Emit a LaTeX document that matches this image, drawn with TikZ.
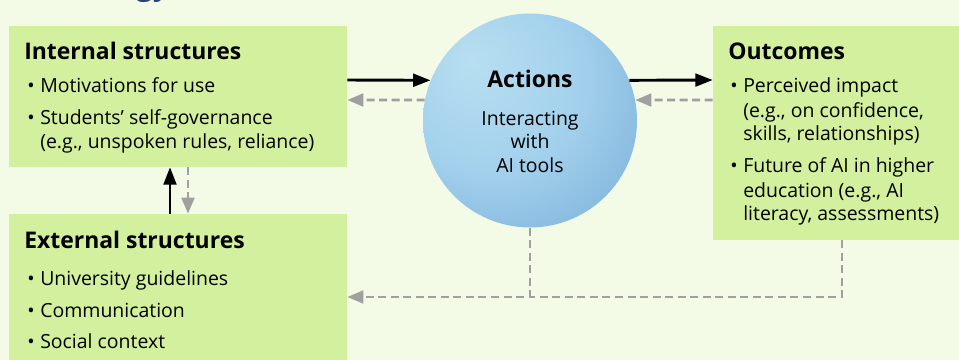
\documentclass[tikz,border=0pt]{standalone}
\usepackage{fontspec}
\setmainfont{Open Sans}
\usetikzlibrary{arrows.meta,fit}

\definecolor{bgc}{RGB}{243,251,231}
\definecolor{boxc}{RGB}{211,240,159}
\definecolor{flowgray}{RGB}{160,160,160}
\definecolor{titleblue}{RGB}{38,68,120}
\definecolor{sphA}{RGB}{184,223,241}
\definecolor{sphB}{RGB}{162,208,236}
\definecolor{sphC}{RGB}{116,170,214}
\definecolor{sphD}{RGB}{70,126,186}

% light spot toward the upper left, darker rim toward the lower right
\pgfdeclareradialshading{sphere}{\pgfpoint{-14bp}{14bp}}{%
  color(0bp)=(sphA); color(22bp)=(sphB); color(46bp)=(sphC); color(68bp)=(sphD)}

\newcommand\itm{\makebox[9.75pt][l]{\textbullet}}

\begin{document}
\begin{tikzpicture}[x=0.75pt,y=-0.75pt,
  box/.style={fill=boxc, draw=none, inner sep=0pt},
  head/.style={anchor=base west, inner sep=0pt, font=\fontsize{17.2}{20}\selectfont\bfseries},
  body/.style={anchor=base west, inner sep=0pt, font=\fontsize{14.6}{17}\selectfont},
  flow/.style={line width=2.2pt, black, -{Triangle[length=13pt,width=9.5pt]}},
  back/.style={line width=2pt, flowgray, dash pattern=on 6pt off 3.4pt,
    -{Triangle[length=12pt,width=9.5pt]}},
  backline/.style={line width=2pt, flowgray, dash pattern=on 6pt off 3.4pt}]

\fill[bgc] (0,0) rectangle (959,360);
\useasboundingbox (0,0) rectangle (959,360);

% tail of the heading line above
\node[anchor=base west, inner sep=0pt, text=titleblue,
  font=\fontsize{22}{26}\selectfont\bfseries] (title) at (136,-4) {gy,};

% boxes
\node[box, fit={(9,26)(347,167)}] (internal) {};
\node[box, fit={(9,214)(347,365)}] (external) {};
\node[box, fit={(713,26)(965,240)}] (outcomes) {};
\node[circle, minimum size=160.5pt, inner sep=0pt, shade, shading=sphere]
  (actions) at (530,120.5) {};

% internal structures
\node[head] (int-h) at (24,60) {Internal structures};
\node[body] (int-1) at (27,92) {\itm Motivations for use};
\node[body] (int-2) at (27,124) {\itm Students’ self-governance};
\node[body] (int-2b) at (40,148) {(e.g., unspoken rules, reliance)};

% external structures
\node[head] (ext-h) at (24,248) {External structures};
\node[body] (ext-1) at (27,285) {\itm University guidelines};
\node[body] (ext-2) at (27,317) {\itm Communication};
\node[body] (ext-3) at (27,348) {\itm Social context};

% outcomes
\node[head] (out-h) at (728,60) {Outcomes};
\node[body] (out-1) at (730,92) {\itm Perceived impact};
\node[body] (out-1b) at (743,117) {(e.g., on confidence,};
\node[body] (out-1c) at (743,140) {skills, relationships)};
\node[body] (out-2) at (730,172) {\itm Future of AI in higher};
\node[body] (out-2b) at (743,197) {education (e.g., AI};
\node[body] (out-2c) at (743,220) {literacy, assessments)};

% actions
\node[head, anchor=base] (act-h) at (530,88) {Actions};
\node[body, anchor=base] (act-1) at (530,125) {Interacting};
\node[body, anchor=base] (act-2) at (530,148) {with};
\node[body, anchor=base] (act-3) at (530,172) {AI tools};

% connectors
\draw[flow] (internal.east |- 0,80) -- (actions.158);
\draw[back] (actions.169) -- (internal.east |- 0,100);
\draw[flow] (actions.22) -- (outcomes.west |- 0,80);
\draw[back] (outcomes.west |- 0,100) -- (actions.11);

\draw[flow] (external.north -| 170,0) -- (internal.south -| 170,0);
\draw[back] (internal.south -| 188,0) -- (external.north -| 188,0);

\coordinate (join) at (530,297);
\draw[back] (actions.south) |- (external.east |- join);
\draw[backline] (outcomes.south -| 842,0) |- (join);
\end{tikzpicture}
\end{document}
